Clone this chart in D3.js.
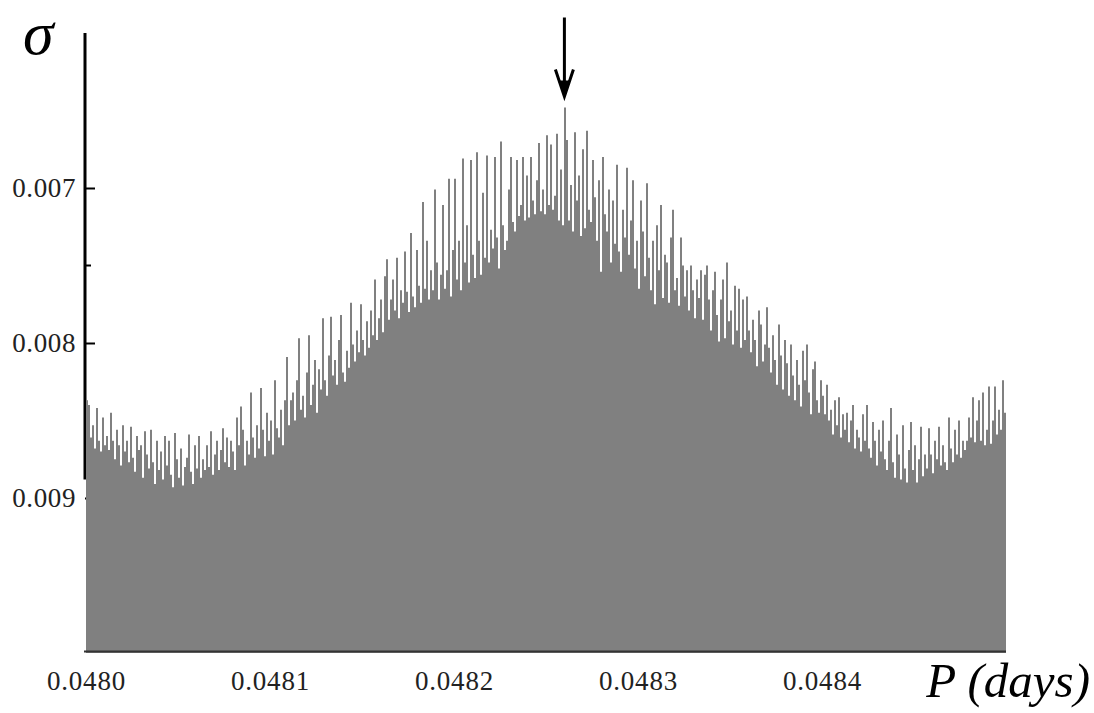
<!DOCTYPE html>
<html>
<head>
<meta charset="utf-8">
<script src="https://cdn.jsdelivr.net/npm/d3@7"></script>
<style>
  html, body { margin: 0; padding: 0; background: #fff; }
  svg { display: block; font-family: "Liberation Serif", "Times New Roman", serif; }
</style>
</head>
<body>
<svg id="chart" width="1094" height="713"></svg>
<script>
// period grid: first period and number of equal steps up to the last one
const periodRange = [0.0480, 0.0485]
const xTicks = [0.0480, 0.0481, 0.0482, 0.0483, 0.0484]
const xTickLabels = ['0.0480', '0.0481', '0.0482', '0.0483', '0.0484']
const yTicks = [0.007, 0.008, 0.009]
const yTickLabels = ['0.007', '0.008', '0.009']
const yMinorTicks = [0.0075]
const sigmaRange = [0.006, 0.010]
const arrowPeriod = 0.04826
const arrowSigma = [0.00590, 0.00641]

// dispersion sigma, one value per period step
const sigma = [
  0.00837, 0.00840, 0.00861, 0.00853, 0.00868, 0.00842, 0.00863, 0.00870, 0.00848, 0.00866,
  0.00860, 0.00869, 0.00845, 0.00863, 0.00875, 0.00856, 0.00866, 0.00879, 0.00853, 0.00870,
  0.00863, 0.00877, 0.00854, 0.00874, 0.00883, 0.00860, 0.00869, 0.00866, 0.00887, 0.00857,
  0.00872, 0.00881, 0.00856, 0.00877, 0.00891, 0.00863, 0.00882, 0.00870, 0.00888, 0.00860,
  0.00879, 0.00863, 0.00885, 0.00893, 0.00858, 0.00875, 0.00887, 0.00868, 0.00892, 0.00880,
  0.00874, 0.00859, 0.00883, 0.00891, 0.00866, 0.00881, 0.00860, 0.00887, 0.00875, 0.00882,
  0.00866, 0.00880, 0.00857, 0.00885, 0.00872, 0.00863, 0.00882, 0.00869, 0.00855, 0.00877,
  0.00861, 0.00880, 0.00863, 0.00870, 0.00882, 0.00848, 0.00866, 0.00841, 0.00856, 0.00879,
  0.00863, 0.00872, 0.00832, 0.00861, 0.00874, 0.00853, 0.00868, 0.00829, 0.00856, 0.00873,
  0.00845, 0.00863, 0.00850, 0.00872, 0.00824, 0.00855, 0.00861, 0.00843, 0.00866, 0.00837,
  0.00809, 0.00853, 0.00837, 0.00832, 0.00850, 0.00824, 0.00797, 0.00843, 0.00834, 0.00848,
  0.00819, 0.00795, 0.00840, 0.00827, 0.00811, 0.00845, 0.00817, 0.00830, 0.00784, 0.00824,
  0.00834, 0.00808, 0.00783, 0.00821, 0.00811, 0.00827, 0.00798, 0.00782, 0.00819, 0.00825,
  0.00805, 0.00816, 0.00774, 0.00801, 0.00812, 0.00792, 0.00806, 0.00775, 0.00798, 0.00808,
  0.00786, 0.00803, 0.00779, 0.00795, 0.00759, 0.00798, 0.00784, 0.00772, 0.00793, 0.00757,
  0.00746, 0.00785, 0.00772, 0.00759, 0.00779, 0.00745, 0.00784, 0.00766, 0.00774, 0.00741,
  0.00767, 0.00780, 0.00729, 0.00770, 0.00777, 0.00740, 0.00763, 0.00774, 0.00709, 0.00765,
  0.00734, 0.00772, 0.00753, 0.00766, 0.00701, 0.00748, 0.00772, 0.00756, 0.00711, 0.00765,
  0.00753, 0.00694, 0.00770, 0.00740, 0.00694, 0.00759, 0.00734, 0.00766, 0.00681, 0.00748,
  0.00724, 0.00761, 0.00682, 0.00743, 0.00758, 0.00677, 0.00734, 0.00756, 0.00703, 0.00745,
  0.00679, 0.00748, 0.00727, 0.00739, 0.00680, 0.00732, 0.00752, 0.00670, 0.00724, 0.00740,
  0.00734, 0.00701, 0.00680, 0.00722, 0.00728, 0.00682, 0.00718, 0.00711, 0.00680, 0.00721,
  0.00692, 0.00719, 0.00680, 0.00708, 0.00717, 0.00695, 0.00671, 0.00715, 0.00701, 0.00717,
  0.00666, 0.00711, 0.00672, 0.00714, 0.00705, 0.00665, 0.00721, 0.00688, 0.00724, 0.00648,
  0.00669, 0.00721, 0.00698, 0.00728, 0.00664, 0.00708, 0.00692, 0.00731, 0.00675, 0.00726,
  0.00663, 0.00714, 0.00722, 0.00682, 0.00706, 0.00734, 0.00695, 0.00754, 0.00680, 0.00717,
  0.00728, 0.00701, 0.00748, 0.00708, 0.00736, 0.00685, 0.00741, 0.00754, 0.00714, 0.00732,
  0.00687, 0.00743, 0.00721, 0.00695, 0.00752, 0.00734, 0.00765, 0.00708, 0.00728, 0.00757,
  0.00697, 0.00745, 0.00766, 0.00734, 0.00775, 0.00724, 0.00753, 0.00711, 0.00771, 0.00743,
  0.00748, 0.00774, 0.00732, 0.00714, 0.00766, 0.00758, 0.00776, 0.00732, 0.00750, 0.00770,
  0.00753, 0.00779, 0.00750, 0.00766, 0.00784, 0.00759, 0.00771, 0.00753, 0.00785, 0.00756,
  0.00750, 0.00772, 0.00792, 0.00766, 0.00754, 0.00782, 0.00799, 0.00772, 0.00759, 0.00797,
  0.00748, 0.00786, 0.00779, 0.00801, 0.00763, 0.00792, 0.00765, 0.00803, 0.00772, 0.00798,
  0.00770, 0.00792, 0.00806, 0.00785, 0.00798, 0.00815, 0.00779, 0.00788, 0.00812, 0.00801,
  0.00777, 0.00803, 0.00819, 0.00795, 0.00811, 0.00827, 0.00788, 0.00808, 0.00830, 0.00798,
  0.00813, 0.00834, 0.00801, 0.00821, 0.00837, 0.00811, 0.00827, 0.00841, 0.00805, 0.00824,
  0.00801, 0.00832, 0.00846, 0.00817, 0.00812, 0.00837, 0.00845, 0.00824, 0.00834, 0.00846,
  0.00827, 0.00850, 0.00843, 0.00859, 0.00837, 0.00853, 0.00835, 0.00861, 0.00846, 0.00856,
  0.00845, 0.00864, 0.00850, 0.00840, 0.00868, 0.00856, 0.00861, 0.00870, 0.00846, 0.00863,
  0.00840, 0.00868, 0.00874, 0.00851, 0.00863, 0.00879, 0.00856, 0.00870, 0.00850, 0.00875,
  0.00882, 0.00863, 0.00842, 0.00877, 0.00887, 0.00859, 0.00872, 0.00888, 0.00853, 0.00881,
  0.00890, 0.00869, 0.00851, 0.00882, 0.00866, 0.00890, 0.00875, 0.00854, 0.00886, 0.00872,
  0.00881, 0.00855, 0.00872, 0.00884, 0.00863, 0.00875, 0.00854, 0.00879, 0.00866, 0.00877,
  0.00882, 0.00848, 0.00868, 0.00877, 0.00856, 0.00872, 0.00850, 0.00874, 0.00863, 0.00869,
  0.00863, 0.00848, 0.00861, 0.00835, 0.00864, 0.00850, 0.00837, 0.00863, 0.00832, 0.00866,
  0.00856, 0.00828, 0.00865, 0.00850, 0.00828, 0.00859, 0.00843, 0.00856, 0.00824, 0.00845,
  0.00850
]

const svg = d3.select('#chart')

const x = d3.scaleLinear()
  .domain(periodRange)
  .range([86, 1006])

const y = d3.scaleLinear()
  .domain(sigmaRange)
  .range([33, 653])

const step = (periodRange[1] - periodRange[0]) / (sigma.length - 1)
const data = sigma.map((s, i) => ({ p: periodRange[0] + i * step, s: s }))

// y axis: ticks point into the plot, labels on the left
const yAxis = g => g
  .attr('transform', 'translate(85,0)')
  .call(
    d3.axisLeft(y)
      .tickValues(yTicks)
      .tickFormat((d, i) => yTickLabels[i])
      .tickSize(-10)
      .tickPadding(9)
  )
  .call(g => g.select('.domain').remove())

svg.append('g')
  .call(yAxis)
  .call(g => g.selectAll('.tick line').attr('stroke', '#000').attr('stroke-width', 2))
  .call(g => g.selectAll('.tick text')
    .attr('font-family', '"Liberation Serif", serif')
    .attr('font-size', 27)
    .attr('letter-spacing', 0.6)
    .attr('fill', '#222'))

svg.append('g')
  .selectAll('line')
  .data(yMinorTicks)
  .join('line')
  .attr('x1', 85)
  .attr('x2', 91)
  .attr('y1', d => y(d))
  .attr('y2', d => y(d))
  .attr('stroke', '#000')
  .attr('stroke-width', 2)

svg.append('line')
  .attr('x1', 85)
  .attr('x2', 85)
  .attr('y1', y(sigmaRange[0]))
  .attr('y2', y(0.00888))
  .attr('stroke', '#000')
  .attr('stroke-width', 3)

const area = d3.area()
  .x(d => x(d.p))
  .y0(y(sigmaRange[1]))
  .y1(d => y(d.s))
  .curve(d3.curveStepAfter)

svg.append('path')
  .datum(data)
  .attr('fill', '#808080')
  .attr('d', area)

// x axis
svg.append('line')
  .attr('x1', 84)
  .attr('x2', x(periodRange[1]))
  .attr('y1', 651.5)
  .attr('y2', 651.5)
  .attr('stroke', '#333')
  .attr('stroke-width', 2)

svg.append('g')
  .attr('transform', 'translate(0,652)')
  .call(
    d3.axisBottom(x)
      .tickValues(xTicks)
      .tickFormat((d, i) => xTickLabels[i])
      .tickSize(0)
      .tickPadding(19)
  )
  .call(g => g.select('.domain').remove())
  .call(g => g.selectAll('.tick text')
    .attr('font-family', '"Liberation Serif", serif')
    .attr('font-size', 27)
    .attr('letter-spacing', 0.8)
    .attr('fill', '#222'))

// axis titles
svg.append('text')
  .attr('x', 23)
  .attr('y', 54)
  .attr('font-family', '"Liberation Serif", serif')
  .attr('font-style', 'italic')
  .attr('font-size', 62)
  .text('σ')

svg.append('text')
  .attr('x', 1090)
  .attr('y', 697)
  .attr('text-anchor', 'end')
  .attr('font-family', '"Liberation Serif", serif')
  .attr('font-style', 'italic')
  .attr('font-size', 49)
  .text('P (days)')

// arrow marking the best period
const ax = x(arrowPeriod)
const aTop = y(arrowSigma[0])
const aTip = y(arrowSigma[1])
svg.append('line')
  .attr('x1', ax).attr('x2', ax)
  .attr('y1', aTop).attr('y2', aTip - 6)
  .attr('stroke', '#000')
  .attr('stroke-width', 3)
svg.append('path')
  .attr('d', `M${ax - 9},${aTip - 27} L${ax},${aTip} L${ax + 9},${aTip - 27}`)
  .attr('fill', 'none')
  .attr('stroke', '#000')
  .attr('stroke-width', 3)
svg.append('path')
  .attr('d', `M${ax - 5},${aTip - 16} L${ax},${aTip} L${ax + 5},${aTip - 16} Z`)
  .attr('fill', '#000')
</script>
</body>
</html>
